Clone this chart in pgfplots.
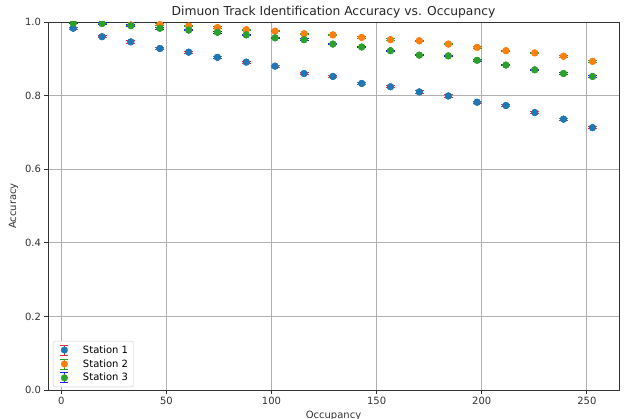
\documentclass[border=0pt]{standalone}
\usepackage{pgfplots}
\pgfplotsset{compat=1.18}
\usepackage{pgfplotstable}
\usepackage{fontspec}
\setmainfont{DejaVu Sans}
\definecolor{c1}{HTML}{1F77B4}
\definecolor{c2}{HTML}{FF7F0E}
\definecolor{c3}{HTML}{2CA02C}
\definecolor{e1}{HTML}{E8303A}
\definecolor{e2}{HTML}{2CA02C}
\definecolor{e3}{HTML}{2020F0}
\definecolor{gridc}{HTML}{B0B0B0}

\pgfplotstableread{
x y e
5.7 0.983 0.003
19.4 0.960 0.003
33.1 0.946 0.003
46.9 0.928 0.003
60.6 0.918 0.003
74.3 0.904 0.003
88.0 0.891 0.003
101.7 0.880 0.003
115.5 0.860 0.003
129.2 0.852 0.003
142.9 0.833 0.003
156.6 0.824 0.003
170.3 0.810 0.003
184.1 0.799 0.003
197.8 0.782 0.003
211.5 0.773 0.003
225.2 0.754 0.003
238.9 0.736 0.003
252.7 0.713 0.003
}\stationA

\pgfplotstableread{
x y e
5.7 0.998 0.002
19.4 0.997 0.002
33.1 0.992 0.002
46.9 0.993 0.002
60.6 0.989 0.002
74.3 0.985 0.002
88.0 0.979 0.002
101.7 0.975 0.002
115.5 0.968 0.002
129.2 0.965 0.002
142.9 0.958 0.002
156.6 0.952 0.002
170.3 0.949 0.002
184.1 0.940 0.002
197.8 0.931 0.002
211.5 0.922 0.002
225.2 0.916 0.002
238.9 0.907 0.002
252.7 0.893 0.002
}\stationB

\pgfplotstableread{
x y e
5.7 0.997 0.002
19.4 0.996 0.002
33.1 0.990 0.002
46.9 0.983 0.002
60.6 0.978 0.002
74.3 0.972 0.002
88.0 0.965 0.002
101.7 0.957 0.002
115.5 0.952 0.002
129.2 0.940 0.002
142.9 0.932 0.002
156.6 0.922 0.002
170.3 0.910 0.002
184.1 0.908 0.002
197.8 0.896 0.002
211.5 0.883 0.002
225.2 0.870 0.002
238.9 0.860 0.002
252.7 0.852 0.002
}\stationC

\pgfplotsset{
  ebleg/.style 2 args={legend image code/.code={
    \path (0pt,0pt) (24pt,0pt);
    \draw[#2, line width=0.9pt] (8pt,-5pt) -- (8pt,5pt);
    \draw[#2, line width=0.9pt] (4pt,-5pt) -- (12pt,-5pt);
    \draw[#2, line width=0.9pt] (4pt,5pt) -- (12pt,5pt);
    \fill[#1] (8pt,0pt) circle (3.3pt);
  }},
  ebplot/.style 2 args={only marks, mark=*, mark size=3.3pt,
    mark options={draw=#1, fill=#1}, forget plot,
    error bars/.cd, y dir=both, y explicit,
    error bar style={#2, line width=0.9pt},
    error mark options={rotate=90, #2, mark size=4.5pt, line width=0.9pt}},
  mkplot/.style={only marks, mark=*, mark size=3.3pt,
    mark options={draw=#1, fill=#1}, forget plot},
}

\begin{document}
\begin{tikzpicture}
\begin{axis}[
  scale only axis,
  width=571pt, height=368pt,
  xmin=-6.3, xmax=265.3,
  ymin=0, ymax=1,
  xtick={0,50,100,150,200,250},
  ytick={0,0.2,0.4,0.6,0.8,1.0},
  yticklabel style={/pgf/number format/fixed, /pgf/number format/fixed zerofill, /pgf/number format/precision=1},
  /pgf/number format/assume math mode=true,
  tick label style={font=\fontsize{10}{12}\selectfont, text=black!80},
  label style={font=\fontsize{10}{12}\selectfont, text=black!80},
  title style={font=\fontsize{12.3}{14}\selectfont, text=black!85, inner sep=0pt, anchor=base, at={(0.5,1)}},
  title={Dimuon Track Identification Accuracy vs. Occupancy},
  xlabel={Occupancy},
  ylabel={Accuracy},
  xtick pos=bottom, ytick pos=left,
  tick align=outside,
  major tick length=3.5pt,
  every tick/.style={black!80, line width=0.8pt},
  axis line style={black!80, line width=0.8pt},
  grid=major,
  major grid style={gridc, line width=0.8pt},
  clip marker paths=true,
  legend cell align=left,
  legend style={at={(0,0)}, anchor=south west, xshift=5pt, yshift=3pt,
    draw=black!20, rounded corners=2pt, font=\fontsize{10}{12}\selectfont,
    nodes={inner sep=2.4pt}},
]
\addplot[ebplot={c1}{e1}] table[x=x, y=y, y error=e] {\stationA};
\addplot[mkplot=c1] table[x=x, y=y] {\stationA};
\addplot[ebplot={c2}{e2}] table[x=x, y=y, y error=e] {\stationB};
\addplot[mkplot=c2] table[x=x, y=y] {\stationB};
\addplot[ebplot={c3}{e3}] table[x=x, y=y, y error=e] {\stationC};
\addplot[mkplot=c3] table[x=x, y=y] {\stationC};
\addlegendimage{ebleg={c1}{e1}}
\addlegendentry{Station 1}
\addlegendimage{ebleg={c2}{e2}}
\addlegendentry{Station 2}
\addlegendimage{ebleg={c3}{e3}}
\addlegendentry{Station 3}
\end{axis}
\pgfresetboundingbox
\path[use as bounding box] ([shift={(-48pt,-28pt)}]current axis.south west) rectangle ([shift={(6pt,22pt)}]current axis.north east);
\end{tikzpicture}
\end{document}
